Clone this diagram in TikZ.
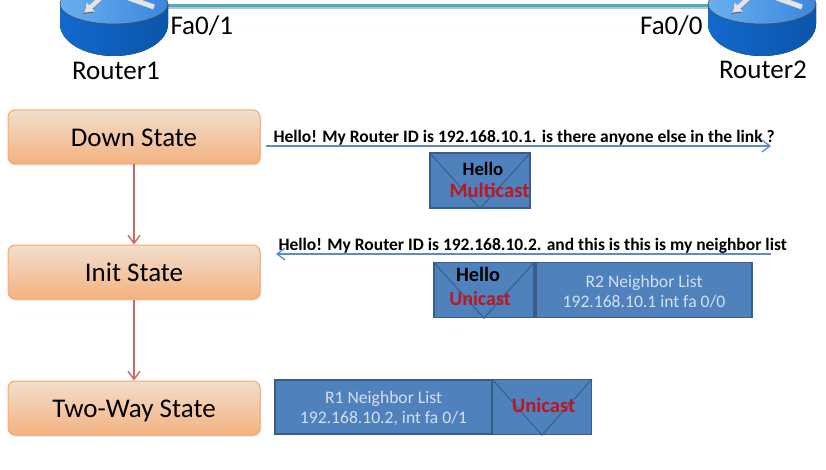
\documentclass[tikz,border=0pt]{standalone}
\usepackage{fontspec}
\setmainfont{Carlito}
\usetikzlibrary{shadows,arrows.meta}
\definecolor{linkteal}{RGB}{75,172,198}
\definecolor{routerblue}{RGB}{18,105,205}
\definecolor{routerdark}{RGB}{12,85,170}
\definecolor{routertop}{RGB}{60,135,220}
\definecolor{routerpale}{RGB}{105,175,240}
\definecolor{framblue}{RGB}{79,129,189}
\definecolor{framedge}{RGB}{56,93,138}
\definecolor{msgline}{RGB}{95,140,200}
\definecolor{statered}{RGB}{200,105,100}
\definecolor{uniRed}{RGB}{192,20,30}
\definecolor{stateedge}{RGB}{245,170,110}
\definecolor{statetop}{RGB}{242,222,205}
\definecolor{statebot}{RGB}{243,178,128}
\tikzset{%
  statebox/.style = {shape=rectangle, rounded corners=7pt, draw=stateedge,%
                     line width=1pt, minimum width=252pt, minimum height=54pt,%
                     top color=statetop, bottom color=statebot,%
                     text height=19pt, text depth=0pt,%
                     font=\fontsize{27}{29}\selectfont, drop shadow={opacity=0.25,shadow xshift=1pt,shadow yshift=-1.5pt}},%
  frame/.style    = {shape=rectangle, draw=framedge, line width=1.2pt, fill=framblue},%
  listtext/.style = {text=white!75!framblue, align=center, font=\fontsize{17.6}{20}\selectfont},%
  label/.style    = {font=\fontsize{27}{29}\selectfont},%
  msg/.style      = {font=\bfseries\fontsize{17.5}{19}\selectfont},%
  msgarrow/.style = {draw=msgline, line width=1.3pt, -{Straight Barb[length=8pt,width=12pt]}},%
  nextstate/.style= {draw=statered, line width=1.4pt, -{Straight Barb[length=8pt,width=12pt]}}%
}
\begin{document}
\begin{tikzpicture}[x=1pt,y=1pt]
\useasboundingbox (0,0) rectangle (826,-470);
\begin{scope}
	\clip (0,0) rectangle (826,-470);
	\coordinate (r1port) at (167,-6);
	\coordinate (r2port) at (708,-6);
	\draw [draw=black!25,line width=1.5pt] ([yshift=-2pt]r1port) -- ([yshift=-2pt]r2port);
	\draw [draw=linkteal,line width=3pt] (r1port) -- (r2port);
	% routers
	\foreach \rx in {114,762} {
		\begin{scope}[xshift=\rx pt]
		\fill [left color=routerblue,right color=routerdark] (-54,-4) -- (-54,-24) arc [start angle=180,end angle=360,x radius=54,y radius=32] -- (54,-4) -- cycle;
		\draw [draw=black!70,line width=0.6pt,left color=routerpale,right color=routertop] (0,-4) ellipse [x radius=54,y radius=20];
		\draw [black!60,line width=4pt,-{Latex[length=9pt,width=12pt]}] (-13,1) -- (-31,-14.5);
		\draw [white!90!black,line width=4.5pt,-{Latex[length=9pt,width=13pt]}] (-12,3) -- (-30,-13);
		\draw [white!90!black,line width=5pt] (12,3) -- (40,-7);
		\end{scope}
	}
\end{scope}
\node (fa1) [label,anchor=west] at (167,-26) {Fa0/1};
\node (fa0) [label,anchor=east] at (706,-26) {Fa0/0};
\node (router1) [label] at (116,-71) {Router1};
\node (router2) [label] at (763,-70) {Router2};
\node (down) [statebox] at (134,-137) {Down State};
\node (init) [statebox] at (134,-272) {Init State};
\node (two) [statebox] at (134,-408) {Two-Way State};
\draw [nextstate] (down) -- (init);
\draw [nextstate] (init) -- (two);
\node (hellotxt) [msg,anchor=west] at (270,-137.5) {Hello! My Router ID is 192.168.10.1. is there anyone else in the link ?};
\coordinate (dstart) at (266,-146);
\coordinate (dend) at (771,-146);
\draw [msgarrow] (dstart) -- (dend);
\node (hellobox) [frame,minimum width=100pt,minimum height=55pt] at (480,-180.5) {};
\draw [framedge,line width=1pt] (hellobox.north west) -- (hellobox.south) -- (hellobox.north east);
\node (hellolbl) [font=\bfseries\fontsize{18.8}{20}\selectfont] at (483,-169) {Hello};
\node (multi) [font=\bfseries\fontsize{20.6}{22}\selectfont,text=uniRed] at (489.5,-190) {Multicast};
\node (initxt) [msg,anchor=west] at (275,-246) {Hello! My Router ID is 192.168.10.2. and this is this is my neighbor list};
\coordinate (istart) at (771,-254);
\coordinate (iend) at (276,-254);
\draw [msgarrow] (istart) -- (iend);
\node (unibox) [frame,minimum width=100pt,minimum height=55pt] at (484,-290) {};
\draw [framedge,line width=1pt] (unibox.north west) -- (unibox.south) -- (unibox.north east);
\node (unihello) [font=\bfseries\fontsize{20.3}{22}\selectfont] at (478,-274) {Hello};
\node (unilbl) [font=\bfseries\fontsize{20}{22}\selectfont,text=uniRed] at (480,-299) {Unicast};
\node (r2list) [frame,minimum width=216pt,minimum height=55pt] at (644,-290) {};
\node (r2txt) [listtext] at (644,-292) {R2 Neighbor List\\192.168.10.1 int fa 0/0};
\node (r1list) [frame,minimum width=217pt,minimum height=54pt] at (383.5,-407) {};
\node (r1txt) [listtext] at (383.5,-409) {R1 Neighbor List\\192.168.10.2, int fa 0/1};
\node (twobox) [frame,minimum width=99pt,minimum height=55pt] at (542,-407) {};
\draw [framedge,line width=1pt] (twobox.north west) -- (twobox.south) -- (twobox.north east);
\node (twolbl) [font=\bfseries\fontsize{20.6}{22}\selectfont,text=uniRed] at (543.5,-405) {Unicast};
\end{tikzpicture}
\end{document}
